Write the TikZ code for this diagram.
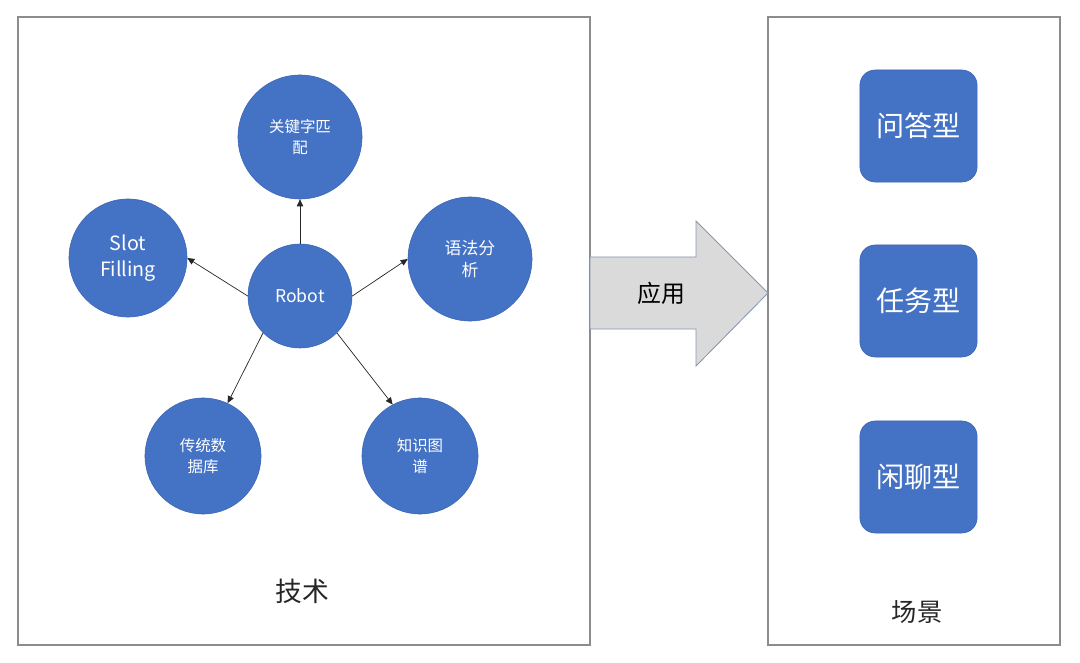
\documentclass[tikz,border=0pt]{standalone}
\usepackage{fontspec}
\setmainfont{Noto Sans CJK SC}
\usetikzlibrary{arrows.meta}

\definecolor{nodeblue}{HTML}{4472C4}
\definecolor{edgeblue}{HTML}{3D66B3}
\definecolor{panelgray}{HTML}{8C8C8C}
\definecolor{arrowgray}{HTML}{DADADA}
\definecolor{arrowedge}{HTML}{8497B0}

\tikzset{
  topic/.style={circle,draw=edgeblue,fill=nodeblue,text=white,minimum size=3cm,inner sep=0pt,align=center,font=\fontsize{11}{15}\selectfont},
  scenebox/.style={rounded corners=0.38cm,draw=edgeblue,fill=nodeblue,text=white,minimum width=2.93cm,minimum height=2.8cm,inner sep=0pt,font=\fontsize{20}{24}\selectfont},
  panel/.style={draw=panelgray,line width=0.8pt},
  link/.style={-{Triangle[length=5pt,width=4.5pt]},draw=black!85,line width=0.5pt},
  caption/.style={text=black!85,font=\fontsize{18}{22}\selectfont}
}

\begin{document}
\begin{tikzpicture}[x=0.025cm,y=-0.025cm]
				\useasboundingbox (0,0) rectangle (1080,663);
				% Panels
				\draw[panel] (18,17) rectangle (590,645);
				\draw[panel] (768,17) rectangle (1060,645);
				
				% Technique circles
				\node[topic,minimum size=2.6cm,font=\fontsize{12.5}{15}\selectfont] (Robot) at (300,296) {Robot};
				\node[topic,minimum size=3.1cm] (KeywordMatch) at (300,137) {关键字匹\\配};
				\node[topic,minimum size=2.95cm,font=\fontsize{14}{18}\selectfont] (SlotFilling) at (128,258) {Slot\\Filling};
				\node[topic,minimum size=3.1cm,font=\fontsize{12}{16}\selectfont] (Grammar) at (470,259) {语法分\\析};
				\node[topic,minimum size=2.9cm] (Database) at (203,456) {传统数\\据库};
				\node[topic,minimum size=2.9cm] (KnowledgeGraph) at (420,456) {知识图\\谱};
				
				\draw[link] (Robot.north) to (KeywordMatch.south);
				\draw[link] (Robot.west) to (SlotFilling.east);
				\draw[link] (Robot.east) to (Grammar.west);
				\draw[link] (Robot.-135) to (Database.65);
				\draw[link] (Robot.-45) to (KnowledgeGraph.118);
				\node[caption,font=\fontsize{19}{22}\selectfont] (TechLabel) at (302,591) {技术};
				
				% Apply arrow
				\draw[fill=arrowgray,draw=arrowedge,line width=0.6pt] (590,257) -- (696,257) -- (696,221) -- (768,293) -- (696,366) -- (696,329) -- (590,329) -- cycle;
				\node[text=black,font=\fontsize{17}{20}\selectfont] (ApplyLabel) at (661,293) {应用};
				
				% Scene boxes
				\node[scenebox] (QAType) at (918.5,126) {问答型};
				\node[scenebox] (TaskType) at (918.5,301) {任务型};
				\node[scenebox] (ChatType) at (918.5,477) {闲聊型};
				\node[caption] (SceneLabel) at (917,612) {场景};
				
				\end{tikzpicture}
\end{document}
